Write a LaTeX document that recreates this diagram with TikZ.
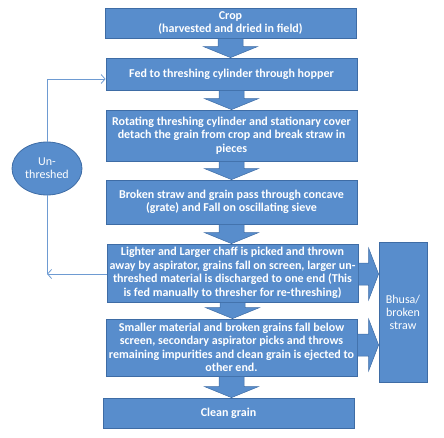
\documentclass[tikz,border=0pt]{standalone}
\usepackage{fontspec}
\setmainfont{Carlito}
\usetikzlibrary{shapes.geometric,arrows.meta,calc}
\definecolor{boxfill}{RGB}{88,141,204}
\definecolor{boxline}{RGB}{62,108,165}
\definecolor{connline}{RGB}{110,155,210}
\tikzset{
  flowbox/.style={draw=boxline, line width=0.8pt, fill=boxfill, text=white,
    font=\fontsize{12}{13.5}\selectfont\bfseries, align=center,
    minimum width=251pt, inner sep=0pt},
  sidebox/.style={draw=boxline, line width=0.8pt, fill=boxfill, text=white,
    font=\fontsize{12}{12.9}\selectfont, align=center, inner sep=0pt},
  blockarrow/.style={draw=boxline, line width=0.5pt, fill=boxfill},
  conn/.style={draw=connline, line width=0.8pt},
  conntip/.style={-{Straight Barb[length=4pt,width=9pt,line width=0.8pt]}}
}
\newcommand\blockdown[2]{%
  \path[blockarrow] let \p1=(#1.south), \p2=(#2.north) in
    (\x1-12.5pt,\y1) -- (\x1-12.5pt,\y2+11pt) -- (\x1-27pt,\y2+11pt) --
    (\x1,\y2) -- (\x1+27pt,\y2+11pt) -- (\x1+12.5pt,\y2+11pt) --
    (\x1+12.5pt,\y1) -- cycle;}
\newcommand\blockright[3]{%
  \path[blockarrow] let \p1=($(#1.east)+(0,#3)$), \p2=(#2.west) in
    (\x1,\y1+11pt) -- (\x2-10pt,\y1+11pt) -- (\x2-10pt,\y1+26pt) --
    (\x2,\y1) -- (\x2-10pt,\y1-26pt) -- (\x2-10pt,\y1-11pt) --
    (\x1,\y1-11pt) -- cycle;}
\begin{document}
\begin{tikzpicture}[x=1pt,y=-1pt]
\useasboundingbox (0,0) rectangle (444,438);
\node[flowbox, minimum height=30pt] (b1) at (230.5,23) {Crop\\(harvested and dried in field)};
\node[flowbox, minimum height=32pt] (b2) at (231.5,74) {Fed to threshing cylinder through hopper};
\node[flowbox, minimum height=51pt] (b3) at (231.5,135.5) {Rotating threshing cylinder and stationary cover\\detach the grain from crop and break straw in\\pieces};
\node[flowbox, minimum height=44pt] (b4) at (231.5,202) {Broken straw and grain pass through concave\\(grate) and Fall on oscillating sieve};
\node[flowbox, minimum height=58pt] (b5) at (232.5,273) {Lighter and Larger chaff is picked and thrown\\away by aspirator, grains fall on screen, larger un-\\threshed material is discharged to one end (This\\is fed manually to thresher for re-threshing)};
\node[flowbox, minimum height=57pt] (b6) at (231.5,347.5) {Smaller material and broken grains fall below\\screen, secondary aspirator picks and throws\\remaining impurities and clean grain is ejected to\\other end.};
\node[flowbox, minimum height=30pt] (b7) at (228.5,413) {Clean grain};
\node[sidebox, minimum width=48pt, minimum height=140pt] (bh) at (403,312) {Bhusa/\\broken\\straw};
\node[sidebox, ellipse, minimum width=70pt, minimum height=53pt] (un) at (47,168.5) {Un-\\threshed};

\blockdown{b1}{b2}
\blockdown{b2}{b3}
\blockdown{b3}{b4}
\blockdown{b4}{b5}
\blockdown{b5}{b6}
\blockdown{b6}{b7}
\blockright{b5}{bh}{1}
\blockright{b6}{bh}{-2.5}

\coordinate (turn) at ($(b5.west -| un.south)+(0,1)$);
\draw[conn,conntip] ($(b5.west)+(0,1)$) -- (turn);
\draw[conn] (un.south) -- (turn);
\draw[conn,conntip] (un.north) |- ($(b2.west)+(0,5)$);
\end{tikzpicture}
\end{document}
